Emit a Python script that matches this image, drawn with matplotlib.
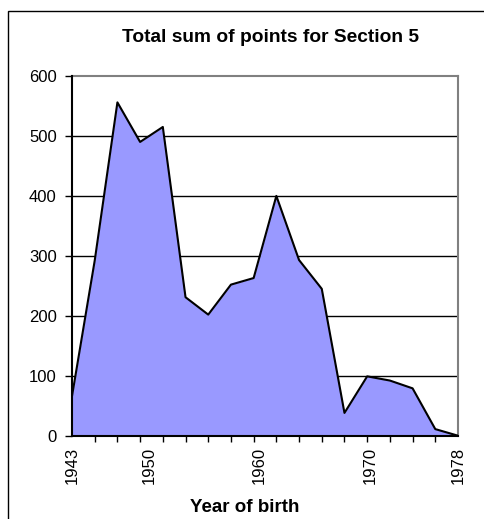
import numpy as np
import matplotlib
matplotlib.use("Agg")
import matplotlib.pyplot as plt
from matplotlib.patches import Rectangle

plt.rcParams['font.family'] = ['Liberation Sans', 'DejaVu Sans']

# Total points per birth-year group (18 equally spaced categories, 1943..1978)
points = [66, 292, 556, 490, 515, 231, 202, 252, 263, 400, 293, 245, 38, 99, 92, 79, 11, 0]
year_labels = [1943, 1950, 1960, 1970, 1978]
first_year, last_year = 1943, 1978
y_ticks = [0, 100, 200, 300, 400, 500, 600]

title = "Total sum of points for Section 5"
xlabel = "Year of birth"

W, H = 485, 519
fig = plt.figure(figsize=(W / 100, H / 100), dpi=100)

# outer chart frame
fig.patches.append(Rectangle((8 / W, -0.05), 1.2, (1 - 11 / H) + 0.05,
                             transform=fig.transFigure, fill=False,
                             edgecolor='black', linewidth=1.0))

ax = fig.add_axes([72 / W, 1 - 435.7 / H, (458 - 72) / W, (435.7 - 76) / H])

x = np.linspace(first_year, last_year, len(points))
ax.fill_between(x, points, 0, color='#9999FF', linewidth=0, zorder=2)
ax.plot(x, points, color='black', linewidth=1.5, zorder=3)

ax.set_xlim(first_year, last_year)
ax.set_ylim(0, 600)

# horizontal gridlines
for v in y_ticks[1:-1]:
    ax.axhline(v, color='black', linewidth=1.0, zorder=1)

ax.set_yticks(y_ticks)
ax.set_yticklabels([str(v) for v in y_ticks])
ax.tick_params(axis='y', direction='out', length=5, width=1, pad=6,
               labelsize=12, color='black')

ax.set_xticks(year_labels)
ax.set_xticklabels([str(v) for v in year_labels], rotation=90)
ax.set_xticks(x, minor=True)
ax.tick_params(axis='x', which='major', length=0, pad=8, labelsize=12)
ax.tick_params(axis='x', which='minor', direction='out', length=4, width=1,
               color='black')

for s in ['top', 'right']:
    ax.spines[s].set_color('#808080')
    ax.spines[s].set_linewidth(1.5)
for s in ['left', 'bottom']:
    ax.spines[s].set_color('black')
    ax.spines[s].set_linewidth(1.5)
    ax.spines[s].set_zorder(4)

fig.text(270.5 / W, 1 - 37 / H, title, ha='center', va='center',
         fontsize=13.8, fontweight='bold')
fig.text(245 / W, 1 - 507 / H, xlabel, ha='center', va='center',
         fontsize=13.5, fontweight='bold')

fig.savefig("out.png", dpi=100)
